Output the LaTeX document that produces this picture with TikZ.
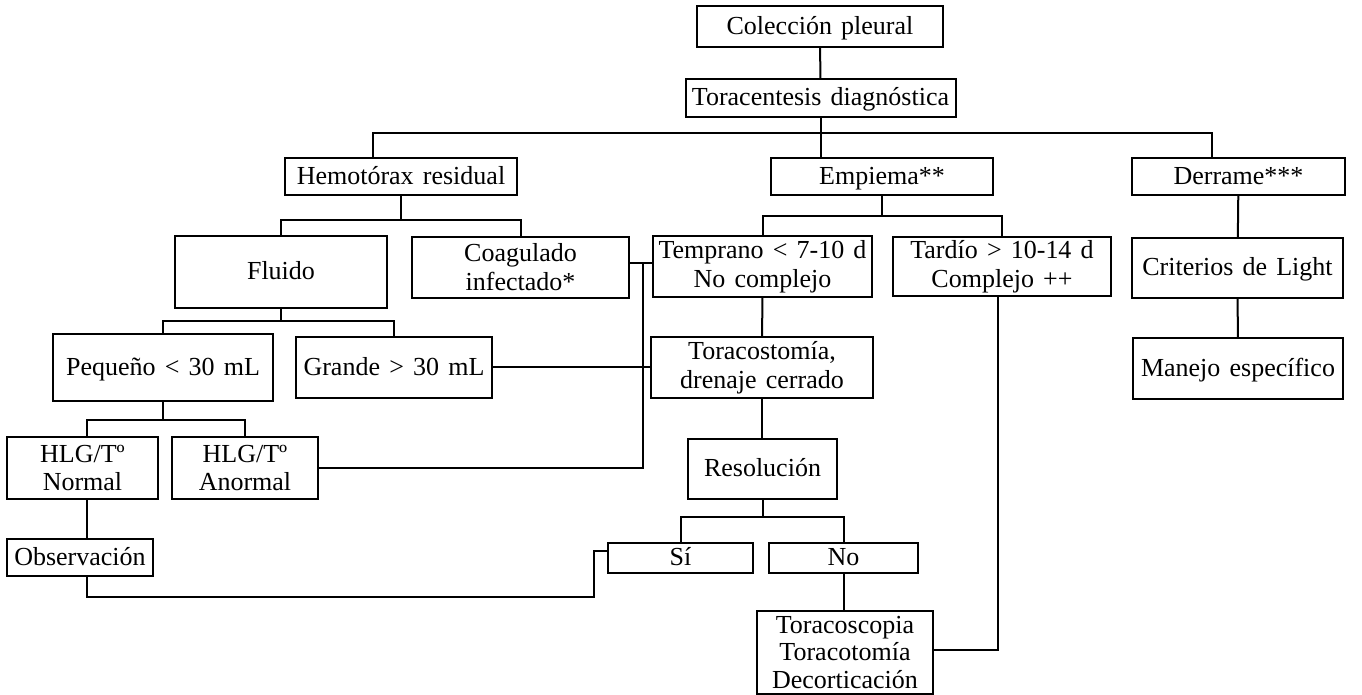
\documentclass[tikz,border=0pt]{standalone}
\usepackage{fontspec}
\setmainfont{Liberation Serif}
\begin{document}
\begin{tikzpicture}[x=0.5pt,y=-0.5pt,
  box/.style={draw,line width=1pt,inner sep=0pt,align=center,font=\fontsize{13}{14.4}\selectfont,
    execute at begin node={\spaceskip=4.6pt plus 1pt\relax}},
  one/.style={box,text height=10.4pt,text depth=2.4pt},
  ln/.style={line width=1pt}]
\useasboundingbox (0,0) rectangle (1362,695);
% row 1-2
\node[one,minimum width=123pt,minimum height=20.5pt] (col) at (820,26.5) {Colección pleural};
\node[one,minimum width=135pt,minimum height=19pt] (tor) at (820.5,98) {Toracentesis diagnóstica};
% row 3
\node[one,minimum width=116pt,minimum height=18.5pt] (hem) at (401,176.5) {Hemotórax residual};
\node[one,minimum width=111pt,minimum height=18.5pt] (emp) at (882,176.5) {Empiema**};
\node[one,minimum width=106.5pt,minimum height=18.5pt] (der) at (1238.5,176.5) {Derrame***};
% row 4
\node[one,minimum width=106pt,minimum height=36pt] (flu) at (281,272) {Fluido};
\node[box,minimum width=108.5pt,minimum height=30.5pt] (coa) at (520.5,267.5) {Coagulado\\infectado*};
\node[box,minimum width=109.5pt,minimum height=30.5pt] (tem) at (762.5,266.5) {Temprano < 7-10 d\\No complejo};
\node[box,minimum width=109pt,minimum height=29.5pt] (tar) at (1002,267) {Tardío > 10-14 d\\Complejo ++};
\node[one,minimum width=105.5pt,minimum height=30pt] (cri) at (1237.5,268) {Criterios de Light};
% row 5
\node[one,minimum width=110pt,minimum height=33.5pt] (peq) at (163,367.5) {Pequeño < 30 mL};
\node[one,minimum width=98pt,minimum height=30.5pt] (gra) at (394,367.5) {Grande > 30 mL};
\node[box,minimum width=111pt,minimum height=30.5pt] (trc) at (762,367.5) {Toracostomía,\\drenaje cerrado};
\node[one,minimum width=105pt,minimum height=30.5pt] (man) at (1238,368.5) {Manejo específico};
% row 6
\node[box,minimum width=75.5pt,minimum height=31pt] (hln) at (82.5,468) {HLG/Tº\\Normal};
\node[box,minimum width=73pt,minimum height=31pt] (hla) at (245,468) {HLG/Tº\\Anormal};
\node[one,minimum width=74.5pt,minimum height=30pt] (res) at (762.5,469) {Resolución};
% row 7
\node[one,minimum width=73pt,minimum height=18.5pt] (obs) at (80,557.5) {Observación};
\node[one,minimum width=72.5pt,minimum height=15pt] (si) at (680.5,558) {Sí};
\node[one,minimum width=74.5pt,minimum height=15pt] (no) at (843.5,558) {No};
\node[box,minimum width=88pt,minimum height=41.5pt,font=\fontsize{13}{13.8}\selectfont] (tcs) at (845,652.5) {Toracoscopia\\Toracotomía\\Decorticación};
% helper coordinates
\coordinate (bL) at (373,133);
\coordinate (bR) at (1212,133);
\coordinate (x87) at (87,0);
\coordinate (q0) at (87,597);
\coordinate (q1) at (594,597);
\coordinate (q2) at (594,551);
\coordinate (v1) at (643,263);
\coordinate (v2) at (643,468);
\coordinate (t1) at (998,650);
% connectors
\draw[ln] (col) -- (tor);
\draw[ln] (tor.south) -- (tor.south |- emp.north);
\draw[ln] (hem.north -| bL) -- (bL) -- (bR) -- (der.north -| bR);
\draw[ln] (hem.south) -- ++(0,24) coordinate (h1);
\draw[ln] (flu.north) |- (h1) -| (coa.north);
\draw[ln] (emp.south) -- ++(0,20) coordinate (e1);
\draw[ln] (tem.north) |- (e1) -| (tar.north);
\draw[ln] (der) -- (cri);
\draw[ln] (cri) -- (man);
\draw[ln] (flu.south) -- ++(0,12) coordinate (f1);
\draw[ln] (peq.north) |- (f1) -| (gra.north);
\draw[ln] (peq.south) -- ++(0,18) coordinate (p1);
\draw[ln] (hln.north -| x87) |- (p1) -| (hla.north);
\draw[ln] (hln.south -| x87) -- (obs.north -| x87);
\draw[ln] (obs.south -| x87) -- (q0) -- (q1) -- (q2) -- (q2 -| si.west);
\draw[ln] (coa.east |- v1) -- (tem.west |- v1);
\draw[ln] (v1) -- (v2) -- (hla.east |- v2);
\draw[ln] (gra.east) -- (trc.west);
\draw[ln] (tem) -- (trc);
\draw[ln] (trc.south) -- (trc.south |- res.north);
\draw[ln] (res.south) -- ++(0,17) coordinate (r1);
\draw[ln] (si.north) |- (r1) -| (no.north);
\draw[ln] (no.south) -- (no.south |- tcs.north);
\draw[ln] (tar.south -| t1) -- (t1) -- (t1 -| tcs.east);
\end{tikzpicture}
\end{document}
